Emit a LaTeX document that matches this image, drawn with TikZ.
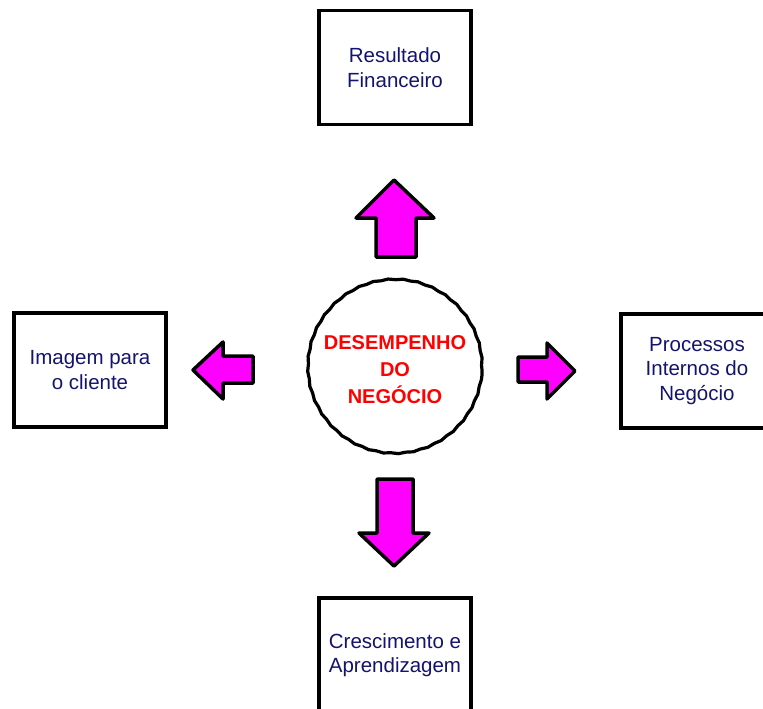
\documentclass[tikz,border=0pt]{standalone}
\usepackage{fontspec}
\setmainfont{Liberation Sans}
\usetikzlibrary{decorations.pathmorphing}
\definecolor{navytext}{RGB}{20,20,110}
\definecolor{arrowfill}{RGB}{255,0,255}
\tikzset{
  box/.style={draw=black, line width=3.5pt, fill=white, minimum width=152pt, minimum height=114pt, inner sep=0pt,
    text=navytext, font=\fontsize{20.5}{24.5}\selectfont, align=center},
  fatarrow/.style={draw=black, line width=3.5pt, fill=arrowfill, line join=round},
  core/.style={circle, draw=black, line width=3.2pt, minimum size=174pt, inner sep=0pt,
    decorate, decoration={snake, segment length=15pt, amplitude=0.45pt},
    text=red, font=\bfseries\fontsize{20}{27}\selectfont, align=center}
}
\begin{document}
\begin{tikzpicture}[x=1pt, y=-1pt]
\useasboundingbox (0,0) rectangle (763,709);
% boxes
\node[box] (fin) at (395,67.5) {Resultado\\Financeiro};
\node[box] (img) at (90,370) {Imagem para\\o cliente};
\node[box] (proc) at (697,371) {Processos\\Internos do\\Negócio};
\node[box] (cresc) at (395,655) {Crescimento e\\Aprendizagem};
% central circle
\node[core] (core) at (395,370) {DESEMPENHO\\DO\\NEGÓCIO};
% arrows
\draw[fatarrow] (394,180) -- (434,218) -- (416,218) -- (416,257) -- (376,257) -- (376,218) -- (356,218) -- cycle;
\draw[fatarrow] (193,370) -- (223,342) -- (223,356) -- (253,356) -- (253,383) -- (223,383) -- (223,399) -- cycle;
\draw[fatarrow] (575,371) -- (547,343) -- (547,357) -- (518,357) -- (518,382) -- (547,382) -- (547,399) -- cycle;
\draw[fatarrow] (394,566) -- (429,533) -- (413,533) -- (413,479) -- (377,479) -- (377,533) -- (359,533) -- cycle;
\end{tikzpicture}
\end{document}
